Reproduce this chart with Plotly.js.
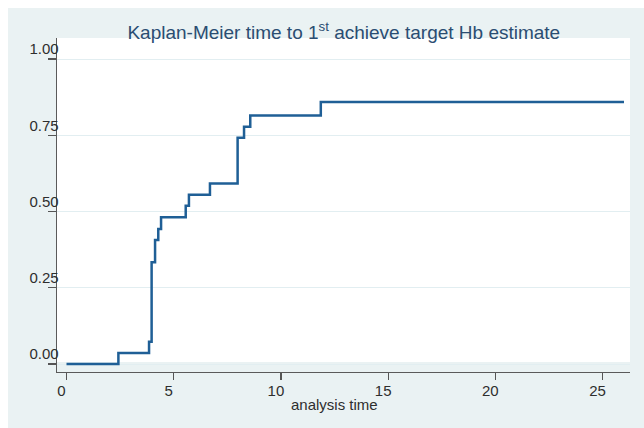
<!DOCTYPE html>
<html>
<head>
<meta charset="utf-8">
<script src="https://cdn.plot.ly/plotly-3.0.1.min.js"></script>
<style>
  html, body { margin: 0; padding: 0; background: #ffffff; }
  #chart { position: absolute; left: 8px; top: 8px; width: 636px; height: 420px; }
</style>
</head>
<body>
<div id="chart"></div>
<script>
// Kaplan-Meier failure estimate: time to first reaching target Hb
const analysisTime = [0, 2.42, 3.85, 3.97, 4.13, 4.28, 4.41, 5.56, 5.71, 6.69, 7.98, 8.28, 8.57, 11.86, 26.0];
const failureProb  = [0, 0.036, 0.073, 0.334, 0.407, 0.443, 0.481, 0.519, 0.555, 0.592, 0.742, 0.778, 0.815, 0.859, 0.859];

const xTickVals = [0, 5, 10, 15, 20, 25];
const yTickVals = [0, 0.25, 0.5, 0.75, 1];
const yTickText = ['0.00', '0.25', '0.50', '0.75', '1.00'];

const FONT = 'Liberation Sans, Arial, sans-serif';
const REGION = '#eaf2f3';

const trace = {
  type: 'scatter',
  mode: 'lines',
  x: analysisTime,
  y: failureProb,
  line: { shape: 'hv', color: '#1f5f96', width: 2.5 },
  hoverinfo: 'x+y'
};

const layout = {
  width: 636,
  height: 420,
  margin: { l: 49, r: 14, t: 30, b: 56 },
  paper_bgcolor: REGION,
  plot_bgcolor: REGION,
  showlegend: false,
  font: { family: FONT, size: 15, color: '#2e2e2e' },
  title: {
    text: 'Kaplan-Meier time to 1<sup>st</sup> achieve target Hb estimate',
    font: { family: FONT, size: 19, color: '#2a4d72' },
    x: 0.528, xanchor: 'center',
    yref: 'container', y: 0.943, yanchor: 'middle'
  },
  xaxis: {
    range: [-0.443, 26.28],
    tickvals: xTickVals,
    ticktext: xTickVals.map(String),
    ticks: 'outside', ticklen: 7, tickwidth: 1.2, tickcolor: '#555555',
    ticklabelshift: -5,
    ticklabelstandoff: -2,
    showgrid: false, zeroline: false,
    showline: true, linecolor: '#5a5a5a', linewidth: 1.3,
    tickfont: { family: FONT, size: 15, color: '#2e2e2e' }
  },
  yaxis: {
    range: [-0.0262, 1.0689],
    tickvals: yTickVals,
    ticktext: yTickText,
    ticks: 'outside', ticklen: 8, tickwidth: 1.2, tickcolor: '#555555',
    ticklabelshift: -10,
    ticklabelstandoff: -14,
    showgrid: true, gridcolor: '#e2eef1', gridwidth: 1,
    zeroline: false,
    showline: true, linecolor: '#5a5a5a', linewidth: 1.3,
    tickfont: { family: FONT, size: 15, color: '#2e2e2e' }
  },
  shapes: [{
    type: 'rect', layer: 'below',
    xref: 'paper', yref: 'paper',
    x0: 0, x1: 1, y0: 0.03, y1: 1,
    fillcolor: '#ffffff', line: { width: 0 }
  }],
  annotations: [{
    text: 'analysis time',
    xref: 'paper', yref: 'paper',
    x: 0.485, y: -0.097,
    xanchor: 'center', yanchor: 'middle',
    showarrow: false,
    font: { family: FONT, size: 15, color: '#2e2e2e' }
  }]
};

Plotly.newPlot('chart', [trace], layout, { displayModeBar: false, staticPlot: true });
</script>
</body>
</html>
